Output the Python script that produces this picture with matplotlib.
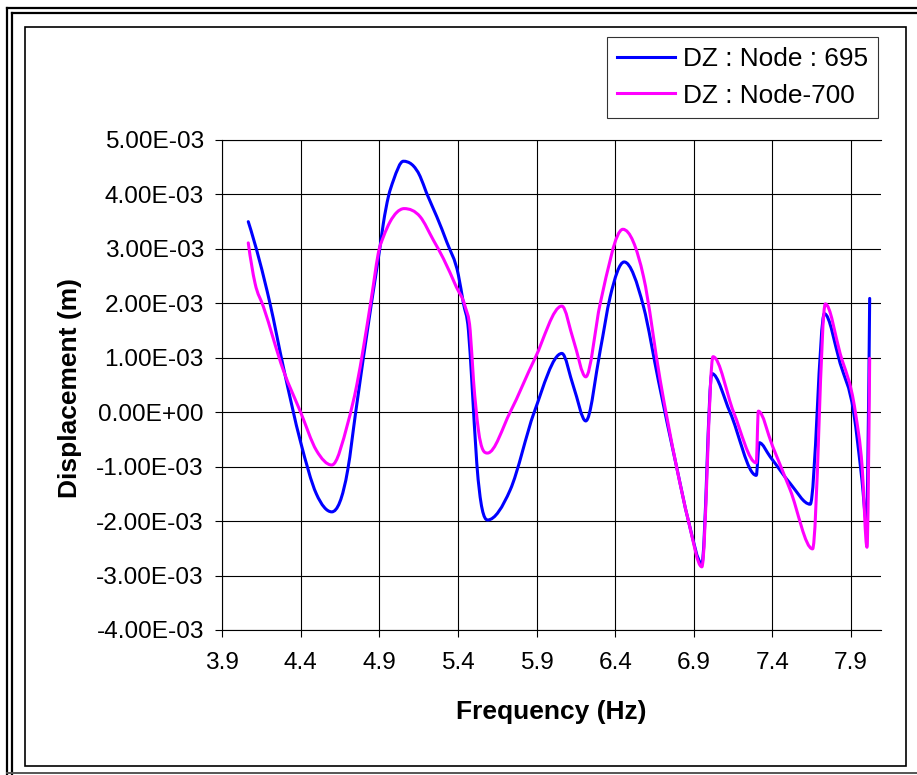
import numpy as np
import matplotlib
matplotlib.use("Agg")
import matplotlib.pyplot as plt
from matplotlib.path import Path
from matplotlib.patches import PathPatch, Rectangle
from matplotlib.lines import Line2D
from matplotlib.ticker import FixedLocator, FuncFormatter

plt.rcParams['font.family'] = ['Liberation Sans', 'DejaVu Sans']

# ---- data -------------------------------------------------------------
series_names = ["DZ : Node : 695", "DZ : Node-700"]

freq_695 = [4.067, 4.205, 4.29, 4.40, 4.50, 4.598, 4.70, 4.75, 4.85, 4.905,
            4.926, 4.958, 4.99, 5.053, 5.16, 5.20, 5.266, 5.33, 5.403, 5.435,
            5.467, 5.488, 5.52, 5.588, 5.732, 5.885, 6.061, 6.135, 6.213, 6.305,
            6.368, 6.457, 6.58, 6.674, 6.79, 6.866, 6.951, 7.015, 7.13, 7.297,
            7.316, 7.386, 7.513, 7.64, 7.73, 7.83, 7.916, 7.969, 7.997, 8.018]
dz_695 = [3.50e-3, 2.00e-3, 0.83e-3, -0.55e-3, -1.50e-3, -1.83e-3, -1.05e-3, 0.00, 2.00e-3, 3.04e-3,
          3.47e-3, 3.96e-3, 4.26e-3, 4.61e-3, 4.33e-3, 4.03e-3, 3.59e-3, 3.12e-3, 2.52e-3, 2.00e-3,
          1.50e-3, 0.59e-3, -0.94e-3, -1.98e-3, -1.43e-3, 0.00, 1.08e-3, 0.47e-3, -0.16e-3, 1.14e-3,
          2.12e-3, 2.76e-3, 1.94e-3, 0.59e-3, -1.00e-3, -2.00e-3, -2.78e-3, 0.71e-3, 0.00, -1.16e-3,
          -0.56e-3, -0.82e-3, -1.31e-3, -1.69e-3, 1.81e-3, 0.90e-3, 0.00, -1.25e-3, -2.00e-3, 2.09e-3]

freq_700 = [4.067, 4.11, 4.163, 4.29, 4.40, 4.50, 4.598, 4.70, 4.757, 4.80,
            4.85, 4.90, 4.926, 4.969, 5.011, 5.058, 5.16, 5.244, 5.308, 5.39,
            5.446, 5.478, 5.499, 5.53, 5.588, 5.732, 5.89, 6.061, 6.135, 6.213,
            6.305, 6.449, 6.58, 6.686, 6.79, 6.866, 6.951, 7.022, 7.153, 7.297,
            7.31, 7.40, 7.513, 7.655, 7.736, 7.83, 7.927, 7.97, 8.001, 8.018]
dz_700 = [3.11e-3, 2.37e-3, 1.94e-3, 0.77e-3, 0.00, -0.70e-3, -0.97e-3, -0.20e-3, 0.50e-3, 1.20e-3,
          2.10e-3, 3.00e-3, 3.22e-3, 3.50e-3, 3.67e-3, 3.74e-3, 3.59e-3, 3.16e-3, 2.82e-3, 2.30e-3,
          1.94e-3, 1.50e-3, 0.59e-3, -0.32e-3, -0.75e-3, 0.00, 0.99e-3, 1.95e-3, 1.32e-3, 0.65e-3,
          2.00e-3, 3.36e-3, 2.49e-3, 0.59e-3, -1.00e-3, -2.00e-3, -2.84e-3, 1.02e-3, 0.00, -0.93e-3,
          0.02e-3, -0.62e-3, -1.43e-3, -2.51e-3, 1.99e-3, 1.08e-3, 0.00, -1.00e-3, -2.48e-3, 0.99e-3]

x_ticks = [3.9, 4.4, 4.9, 5.4, 5.9, 6.4, 6.9, 7.4, 7.9]
y_ticks = [-4e-3, -3e-3, -2e-3, -1e-3, 0.0, 1e-3, 2e-3, 3e-3, 4e-3, 5e-3]

colors = ["#0000FF", "#FF00FF"]


def _tangents(x, y):
    """Three-point tangents, flattened at turning points and limited so the
    smoothed line does not overshoot between neighbouring points."""
    h = np.diff(x)
    d = np.diff(y) / h
    n = len(x)
    m = np.zeros(n)
    for k in range(1, n - 1):
        if d[k - 1] * d[k] > 0:
            mk = (h[k] * d[k - 1] + h[k - 1] * d[k]) / (h[k - 1] + h[k])
            lim = 3 * min(abs(d[k - 1]), abs(d[k]))
            m[k] = np.sign(mk) * min(abs(mk), lim)

    def edge(h0, h1, d0, d1):
        v = ((2 * h0 + h1) * d0 - h0 * d1) / (h0 + h1)
        if np.sign(v) != np.sign(d0):
            v = 0.0
        elif np.sign(d0) != np.sign(d1) and abs(v) > abs(3 * d0):
            v = 3 * d0
        return v

    m[0] = edge(h[0], h[1], d[0], d[1])
    m[-1] = edge(h[-1], h[-2], d[-1], d[-2])
    return m


def smoothed_path(x, y):
    """Cubic Bezier path through every point of the series."""
    x = np.asarray(x, float)
    y = np.asarray(y, float)
    m = _tangents(x, y)
    verts = [(x[0], y[0])]
    codes = [Path.MOVETO]
    for i in range(len(x) - 1):
        h = x[i + 1] - x[i]
        verts += [(x[i] + h / 3, y[i] + m[i] * h / 3),
                  (x[i + 1] - h / 3, y[i + 1] - m[i + 1] * h / 3),
                  (x[i + 1], y[i + 1])]
        codes += [Path.CURVE4] * 3
    return Path(np.array(verts), codes)


W, H = 917, 775
fig = plt.figure(figsize=(W / 100, H / 100), dpi=100)
fig.patch.set_facecolor("white")


def fx(px):
    return px / W


def fy(py):
    return 1 - py / H


ax = fig.add_axes([fx(222), fy(630), fx(881) - fx(222), fy(140) - fy(630)])
ax.set_xlim(3.9, 8.09)
ax.set_ylim(-4e-3, 5e-3)

for fr, dz, c in zip([freq_695, freq_700], [dz_695, dz_700], colors):
    ax.add_patch(PathPatch(smoothed_path(fr, dz), fill=False, edgecolor=c,
                           lw=2.2, capstyle="round", joinstyle="round", zorder=3))

ax.xaxis.set_major_locator(FixedLocator(x_ticks))
ax.yaxis.set_major_locator(FixedLocator(y_ticks))
ax.xaxis.set_major_formatter(FuncFormatter(lambda v, p: f"{v:.1f}"))
ax.yaxis.set_major_formatter(FuncFormatter(lambda v, p: f"{v:.2E}"))
ax.grid(True, color="black", lw=0.8, zorder=1)
ax.set_axisbelow(True)

ax.spines["right"].set_visible(False)
for side in ["left", "bottom", "top"]:
    ax.spines[side].set_linewidth(0.8)
    ax.spines[side].set_color("black")

ax.tick_params(axis="both", direction="out", length=5, width=0.8, color="black",
               labelsize=17.6, labelcolor="black")
ax.tick_params(axis="x", pad=11)
ax.tick_params(axis="y", pad=8)

ax.set_xlabel("Frequency (Hz)", fontsize=19, fontweight="bold")
ax.set_ylabel("Displacement (m)", fontsize=19, fontweight="bold")
ax.xaxis.label.set_va("center")
ax.yaxis.label.set_va("center")
ax.xaxis.set_label_coords(0.5, (630 - 712) / 490)
ax.yaxis.set_label_coords((70 - 222) / 659, (630 - 388) / 490)

handles = [Line2D([], [], color=c, lw=2.2) for c in colors]
leg = fig.legend(handles, series_names, loc="upper right",
                 bbox_to_anchor=(fx(878), fy(37)), fontsize=18.9,
                 frameon=True, fancybox=False, edgecolor="black",
                 handlelength=2.2, handletextpad=0.3, borderpad=0.38,
                 labelspacing=0.48, borderaxespad=0)
leg.get_frame().set_linewidth(0.8)

# chart area border and outer double frame
fig.add_artist(Rectangle((fx(25), fy(766)), fx(906) - fx(25), fy(27) - fy(766),
                         fill=False, edgecolor="black", lw=1.2,
                         transform=fig.transFigure))
for px in (7, 12):
    fig.add_artist(Line2D([fx(px), fx(px)], [fy(px + 1), 0], color="black", lw=1.6,
                          transform=fig.transFigure))
    fig.add_artist(Line2D([fx(px), 1], [fy(px + 1), fy(px + 1)], color="black", lw=1.6,
                          transform=fig.transFigure))
fig.add_artist(Line2D([fx(7), 1], [fy(773), fy(773)], color="#555555", lw=1.4,
                      transform=fig.transFigure))

fig.savefig("out.png", dpi=100)
